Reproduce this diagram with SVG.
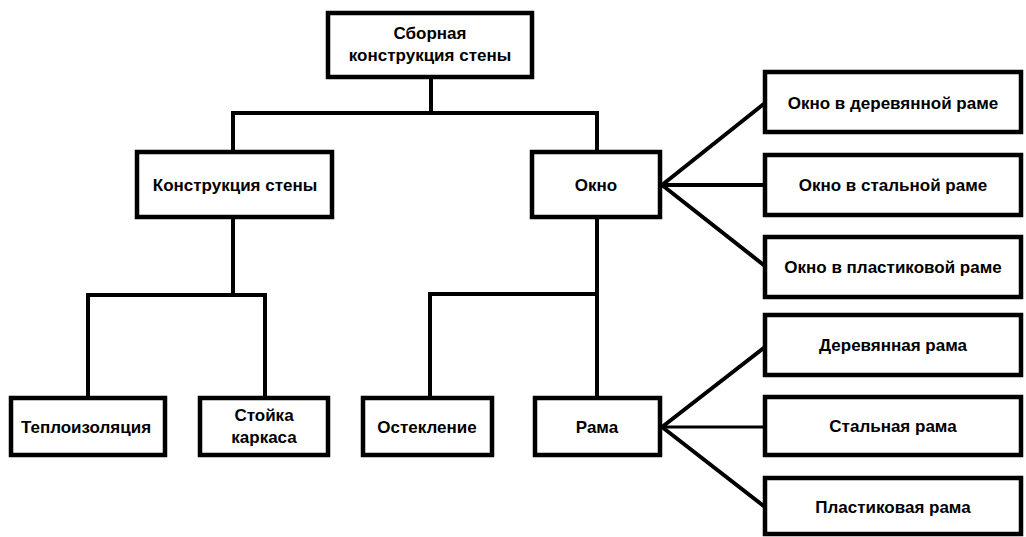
<svg xmlns="http://www.w3.org/2000/svg" width="1026" height="537" viewBox="0 0 1026 537">
<style>
.box{fill:#fff;stroke:#000;stroke-width:4.5}
.ln{fill:none;stroke:#000;stroke-width:4;stroke-linecap:square}
.thin{stroke-width:3}
text{font-family:"Liberation Sans",Arial,sans-serif;font-weight:bold;font-size:17px;fill:#000;text-anchor:middle;dominant-baseline:central}
</style>
<rect width="1026" height="537" fill="#fff"/>
<g id="connectors">
<polyline class="ln" points="431,77 431,113"/>
<polyline class="ln" points="233,152 233,113 597,113 597,152"/>
<polyline class="ln" points="233,217 233,295"/>
<polyline class="ln" points="88,398 88,295 265,295 265,398"/>
<polyline class="ln" points="597,217 597,398"/>
<polyline class="ln" points="430,398 430,294 597,294"/>
<line class="ln" x1="662" y1="185" x2="765" y2="103"/>
<line class="ln" x1="662" y1="185" x2="765" y2="185"/>
<line class="ln" x1="662" y1="185" x2="765" y2="266"/>
<line class="ln" x1="662" y1="427" x2="765" y2="347"/>
<line class="ln thin" x1="662" y1="427" x2="765" y2="427"/>
<line class="ln" x1="662" y1="427" x2="765" y2="507"/>
</g>
<g id="n-root"><rect class="box" x="328" y="13" width="204" height="64"/><text x="430" y="33">Сборная</text><text x="430" y="55">конструкция стены</text></g>
<g id="n-wall"><rect class="box" x="137" y="152" width="195" height="65"/><text x="235" y="185">Конструкция стены</text></g>
<g id="n-window"><rect class="box" x="532" y="152" width="128" height="65"/><text x="596" y="185">Окно</text></g>
<g id="n-w-wood"><rect class="box" x="765" y="72" width="256" height="60"/><text x="893" y="103">Окно в деревянной раме</text></g>
<g id="n-w-steel"><rect class="box" x="765" y="155" width="256" height="60"/><text x="893" y="185">Окно в стальной раме</text></g>
<g id="n-w-plastic"><rect class="box" x="765" y="237" width="256" height="60"/><text x="893" y="267">Окно в пластиковой раме</text></g>
<g id="n-insul"><rect class="box" x="11" y="398" width="154" height="57"/><text x="86" y="427">Теплоизоляция</text></g>
<g id="n-post"><rect class="box" x="200" y="398" width="128" height="57"/><text x="264" y="415">Стойка</text><text x="264" y="437">каркаса</text></g>
<g id="n-glazing"><rect class="box" x="363" y="398" width="129" height="57"/><text x="427" y="427">Остекление</text></g>
<g id="n-frame"><rect class="box" x="535" y="398" width="125" height="57"/><text x="597" y="427">Рама</text></g>
<g id="n-f-wood"><rect class="box" x="765" y="315" width="256" height="60"/><text x="893" y="345">Деревянная рама</text></g>
<g id="n-f-steel"><rect class="box" x="765" y="397" width="256" height="58"/><text x="893" y="426">Стальная рама</text></g>
<g id="n-f-plastic"><rect class="box" x="765" y="478" width="256" height="56"/><text x="893" y="507">Пластиковая рама</text></g>
</svg>
